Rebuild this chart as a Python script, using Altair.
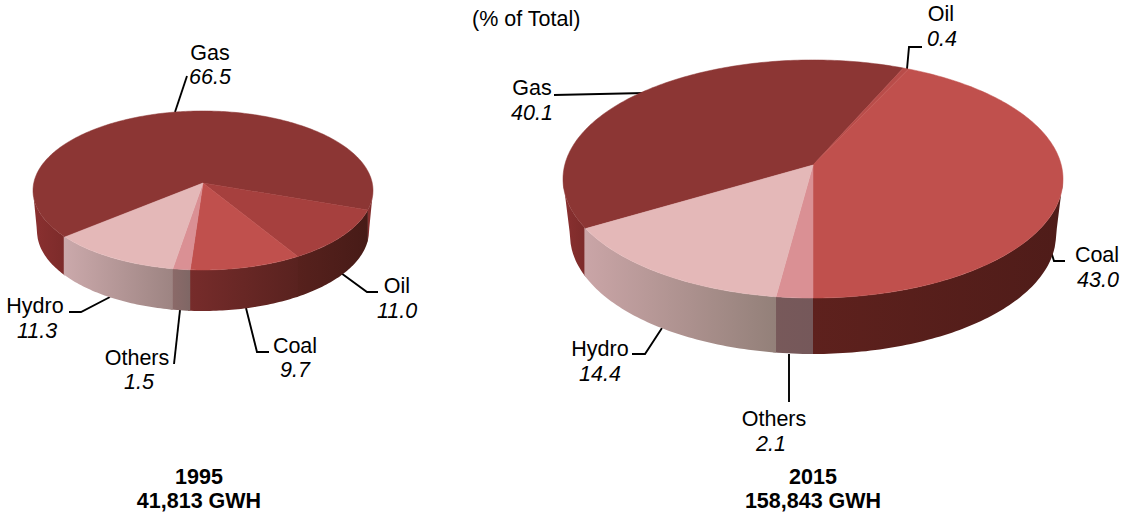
import math
import altair as alt
import pandas as pd

# Generation mix, share of total by fuel, listed clockwise
fuels = ["Gas", "Oil", "Coal", "Others", "Hydro"]
shares_1995 = [66.5, 11.0, 9.7, 1.5, 11.3]
shares_2015 = [40.1, 0.4, 43.0, 2.1, 14.4]
share_labels_1995 = ["66.5", "11.0", "9.7", "1.5", "11.3"]
share_labels_2015 = ["40.1", "0.4", "43.0", "2.1", "14.4"]
headings_1995 = ["1995", "41,813 GWH"]
headings_2015 = ["2015", "158,843 GWH"]
unit_note = "(% of Total)"

FONT = "Liberation Sans"
TEXT_SIZE = 21.5
TEXT_DY = 1.5
X = alt.Scale(domain=[0, 1123], range=[0, 1123])
Y = alt.Scale(domain=[0, 512], range=[0, 512])
x_enc = alt.X("x:Q", scale=X, axis=None)
y_enc = alt.Y("y:Q", scale=Y, axis=None)

tops_1995 = {"Gas": "#8c3634", "Oil": "#a6403e", "Coal": "#c0504d",
             "Others": "#da9094", "Hydro": "#e4b8b8"}
tops_2015 = {"Gas": "#8c3634", "Oil": "#b84c49", "Coal": "#c0504d",
             "Others": "#da9094", "Hydro": "#e4b8b8"}


def wall(left, right):
    return alt.Gradient(
        gradient="linear", x1=0, x2=1, y1=0, y2=0,
        stops=[alt.GradientStop(color=left, offset=0),
               alt.GradientStop(color=right, offset=1)],
    )


walls_1995 = {"Gas": ("#8a3030", "#7c2b2a"), "Oil": ("#57211d", "#471b17"),
              "Coal": ("#772c2b", "#59221f"), "Others": ("#8d6a69", "#7f6765"),
              "Hydro": ("#cba9ab", "#9d8482")}
walls_2015 = {"Gas": ("#8a3030", "#7c2b2a"), "Oil": ("#5c211d", "#5c211d"),
              "Coal": ("#5e211d", "#4f1c19"), "Others": ("#78595a", "#75585a"),
              "Hydro": ("#caa5a7", "#938079")}


def pie_layers(shares, tops, walls, cx, apex_y, rx, k, b, low_rx, low_cy, low_ry, start):
    """Tilted pie: top wedges through a perspective mapping of the unit circle, plus rim walls."""
    a = rx * math.sqrt(1 - k * k)

    def project(t):
        u, v = math.sin(t), -math.cos(t)
        w = 1 - k * v
        return cx + a * u / w, apex_y + b * v / w

    top_cy = (project(0)[1] + project(math.pi)[1]) / 2
    limit_r = math.acos(-k)
    limit_l = 2 * math.pi - limit_r

    def lower_edge(x):
        d = abs(x - cx)
        if d <= low_rx:
            return low_cy + low_ry * math.sqrt(1 - (d / low_rx) ** 2)
        return low_cy + (top_cy - low_cy) * (d - low_rx) / (rx - low_rx)

    wall_layers, top_layers = [], []
    angle = math.radians(start)
    for fuel, share in zip(fuels, shares):
        sweep = math.radians(share * 3.6)
        # wall, for the part of the rim facing the viewer; a slight overlap hides seams
        for turn in (0, 2 * math.pi):
            t0 = max(angle - turn, limit_r)
            t1 = min(angle + sweep - turn + 0.012, limit_l)
            if t1 > t0:
                steps = max(2, int((t1 - t0) * 60))
                rows = []
                for i in range(steps + 1):
                    px, py = project(t0 + (t1 - t0) * i / steps)
                    rows.append({"x": px, "y": py, "y2": lower_edge(px)})
                left, right = walls[fuel]
                wall_layers.append(
                    alt.Chart(pd.DataFrame(rows))
                    .mark_area(color=wall(left, right), interpolate="linear")
                    .encode(x=x_enc, y=y_enc, y2="y2:Q")
                )
        # top wedge, apex first and then along the rim
        steps = max(2, int(sweep * 60))
        rows = [{"x": cx, "y": apex_y, "i": 0}]
        for i in range(steps + 1):
            px, py = project(angle + sweep * i / steps)
            rows.append({"x": px, "y": py, "i": i + 1})
        rows.append({"x": cx, "y": apex_y, "i": steps + 2})
        color = tops[fuel]
        top_layers.append(
            alt.Chart(pd.DataFrame(rows))
            .mark_line(fill=color, stroke=color, strokeWidth=0.5)
            .encode(x=x_enc, y=y_enc, order="i:Q")
        )
        angle += sweep
    return wall_layers + top_layers


# Leader paths from the rim out to each label
leaders = [
    [(175, 112), (187, 76)],
    [(341, 273), (367, 292), (378, 292)],
    [(246, 308), (257, 352), (269, 352)],
    [(180, 310), (174, 364)],
    [(110, 297), (81, 312), (69, 312)],
    [(645, 93), (554, 95)],
    [(907, 69), (909, 47), (922, 47)],
    [(1049, 245), (1054, 261), (1065, 261)],
    [(789, 354), (789, 402)],
    [(662, 328), (645, 354), (632, 354)],
]
leader_layers = [
    alt.Chart(pd.DataFrame([{"x": p[0], "y": p[1], "i": i} for i, p in enumerate(path)]))
    .mark_line(color="#000000", strokeWidth=1.9)
    .encode(x=x_enc, y=y_enc, order="i:Q")
    for path in leaders
]

# Label anchors (name line, value line) for each fuel, same order as the shares
anchors_1995 = [((210, 52), (210, 76)), ((397, 285), (397, 310)), ((295, 345), (295, 369)),
                ((137, 357), (139, 381)), ((35, 305), (37, 330))]
anchors_2015 = [((532, 87), (532, 112)), ((941, 13), (942, 38)), ((1097, 254), (1098, 279)),
                ((774, 418), (771, 443)), ((600, 348), (600, 373))]

name_rows, value_rows = [], []
for anchors, labels in ((anchors_1995, share_labels_1995), (anchors_2015, share_labels_2015)):
    for fuel, label, (n, v) in zip(fuels, labels, anchors):
        name_rows.append({"x": n[0], "y": n[1], "t": fuel})
        value_rows.append({"x": v[0], "y": v[1], "t": label})

names = alt.Chart(pd.DataFrame(name_rows)).mark_text(
    font=FONT, fontSize=TEXT_SIZE, color="#000000", baseline="middle", align="center", dy=TEXT_DY
).encode(x=x_enc, y=y_enc, text="t:N")
values = alt.Chart(pd.DataFrame(value_rows)).mark_text(
    font=FONT, fontSize=TEXT_SIZE, fontStyle="italic", color="#000000", baseline="middle", align="center", dy=TEXT_DY
).encode(x=x_enc, y=y_enc, text="t:N")

heading_rows = []
for cx, lines in ((199, headings_1995), (813, headings_2015)):
    for y, line in zip((476, 500), lines):
        heading_rows.append({"x": cx, "y": y, "t": line})
headings = alt.Chart(pd.DataFrame(heading_rows)).mark_text(
    font=FONT, fontSize=TEXT_SIZE, fontWeight="bold", color="#000000", baseline="middle", align="center", dy=TEXT_DY
).encode(x=x_enc, y=y_enc, text="t:N")

note = alt.Chart(pd.DataFrame([{"x": 472, "y": 18, "t": unit_note}])).mark_text(
    font=FONT, fontSize=TEXT_SIZE, color="#000000", baseline="middle", align="left", dy=TEXT_DY
).encode(x=x_enc, y=y_enc, text="t:N")

pie_1995 = pie_layers(shares_1995, tops_1995, walls_1995, 203, 183, 170, 0.094, 78.8, 166, 231, 80, 230)
pie_2015 = pie_layers(shares_2015, tops_2015, walls_2015, 813, 165, 250, 0.1176, 117.4, 243, 235, 119, 239.4)

chart = alt.layer(*leader_layers, *pie_1995, *pie_2015, names, values, headings, note).properties(
    width=1123, height=512, padding=0, background="#ffffff",
    autosize=alt.AutoSizeParams(type="none"),
).configure_view(stroke=None)

chart.save("out.html", embed_options={"renderer": "svg", "actions": False})
